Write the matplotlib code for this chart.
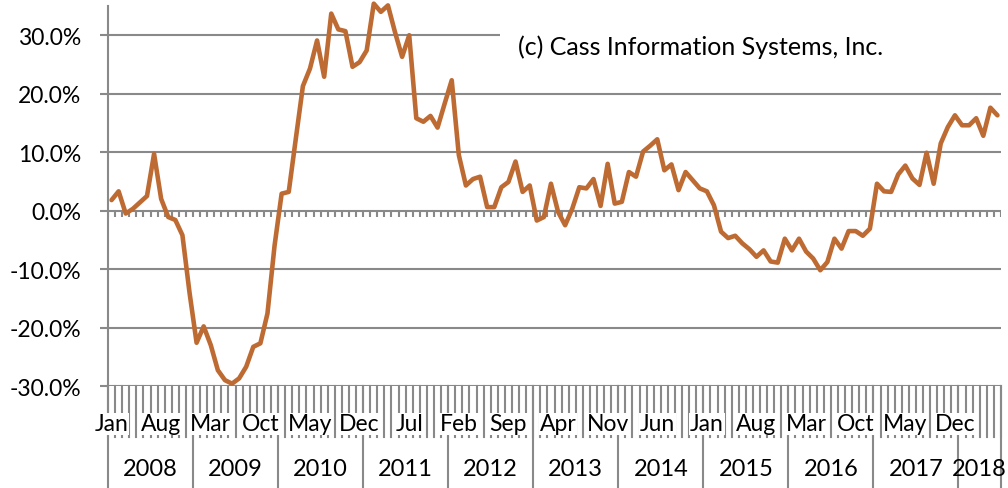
import numpy as np
import matplotlib
matplotlib.use("Agg")
import matplotlib.pyplot as plt
from matplotlib.patches import Rectangle
from matplotlib.transforms import blended_transform_factory

plt.rcParams['font.family'] = ['Lato', 'DejaVu Sans']

# monthly year-over-year change (%), Jan 2008 - Jun 2018
y2008 = [1.8, 3.3, -0.5, 0.3, 1.4, 2.5, 9.7, 2.0, -1.1, -1.6, -4.2, -14.0]
y2009 = [-22.6, -19.8, -23.0, -27.3, -29.0, -29.6, -28.7, -26.7, -23.3, -22.7, -17.6, -6.0]
y2010 = [2.9, 3.2, 12.3, 21.3, 24.3, 29.1, 22.9, 33.7, 31.0, 30.7, 24.6, 25.4]
y2011 = [27.4, 35.4, 34.0, 35.1, 30.5, 26.3, 30.0, 15.8, 15.2, 16.2, 14.2, 18.3]
y2012 = [22.3, 9.5, 4.3, 5.4, 5.8, 0.6, 0.6, 4.0, 4.9, 8.4, 3.2, 4.3]
y2013 = [-1.7, -1.1, 4.6, -0.2, -2.5, 0.3, 4.0, 3.8, 5.4, 0.8, 8.0, 1.2]
y2014 = [1.5, 6.6, 5.8, 10.1, 11.1, 12.2, 6.9, 7.9, 3.5, 6.6, 5.2, 3.8]
y2015 = [3.3, 0.9, -3.6, -4.7, -4.3, -5.6, -6.6, -7.9, -6.8, -8.7, -8.9, -4.8]
y2016 = [-6.8, -4.8, -7.0, -8.2, -10.2, -8.8, -4.8, -6.5, -3.5, -3.5, -4.3, -3.1]
y2017 = [4.6, 3.3, 3.2, 6.2, 7.7, 5.5, 4.4, 9.9, 4.6, 11.5, 14.3, 16.3]
y2018 = [14.6, 14.6, 15.8, 12.8, 17.6, 16.3]

years = ["2008", "2009", "2010", "2011", "2012", "2013", "2014", "2015", "2016", "2017", "2018"]
month_names = ["Jan", "Feb", "Mar", "Apr", "May", "Jun", "Jul", "Aug", "Sep", "Oct", "Nov", "Dec"]
yticks = [-30, -20, -10, 0, 10, 20, 30]

values = np.array(y2008 + y2009 + y2010 + y2011 + y2012 + y2013 + y2014
                  + y2015 + y2016 + y2017 + y2018)
n = len(values)
x = np.arange(n) + 0.5

gray = "#898989"
orange = "#BE6B33"

fig = plt.figure(figsize=(10.08, 4.89), dpi=100)
W, H = 1008, 489
ax = fig.add_axes([108 / W, 1 - 387 / H, 893 / W, 380 / H])

ax.set_axisbelow(True)
ax.yaxis.grid(True, color=gray, lw=1.5)
ax.plot(x, values, color=orange, lw=3.3, solid_joinstyle="round",
        solid_capstyle="round", clip_on=False, zorder=3)

# small ticks hanging from the zero line
ax.vlines(np.arange(n + 1), -1.1, 0, color=gray, lw=1.5, zorder=2)

ax.set_xlim(0, n)
ax.set_ylim(-30, 35)
ax.set_yticks(yticks)
ax.set_yticklabels([f"{v:.1f}%" for v in yticks])
ax.tick_params(axis="y", length=6, width=1.5, color=gray, pad=13, labelsize=16.5)
ax.tick_params(axis="x", bottom=False, labelbottom=False)
for s in ["top", "right", "bottom"]:
    ax.spines[s].set_visible(False)
ax.spines["left"].set_color(gray)
ax.spines["left"].set_linewidth(1.5)

# multi-level category axis below the plot
trans = blended_transform_factory(ax.transData, ax.transAxes)
for i in range(n + 1):
    ax.plot([i, i], [0, -0.134], color=gray, lw=1.5, transform=trans, clip_on=False, zorder=1)
for i in list(range(0, n, 12)) + [n]:
    ax.plot([i, i], [0, -0.27], color=gray, lw=1.5, transform=trans, clip_on=False, zorder=1)
for i in range(0, n, 7):
    ax.text(i + 0.5, -0.1, month_names[i % 12], transform=trans, ha="center", va="center",
            fontsize=16.5, zorder=5,
            bbox=dict(facecolor="white", edgecolor="none", pad=0.5))
for k, yr in enumerate(years):
    start = k * 12
    end = min(start + 12, n)
    ax.text((start + end) / 2, -0.218, yr, transform=trans, ha="center", va="center", fontsize=17)

# copyright box
ax.add_patch(Rectangle((500 / W, 1 - 75 / H), 508 / W, 55 / H, transform=fig.transFigure,
                       facecolor="white", edgecolor="none", zorder=1, clip_on=False))
fig.text(518 / W, 1 - 47 / H, "(c) Cass Information Systems, Inc.", fontsize=18,
         ha="left", va="center", zorder=4)

fig.savefig("out.png", dpi=100)
